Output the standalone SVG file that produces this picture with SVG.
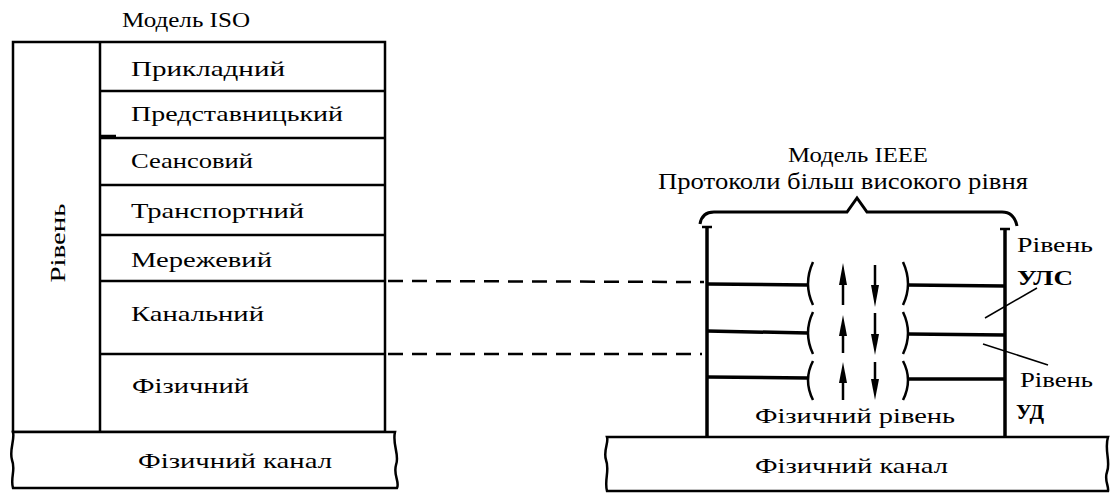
<svg xmlns="http://www.w3.org/2000/svg" width="1111" height="494" viewBox="0 0 1111 494" font-family="'Liberation Serif', 'DejaVu Serif', serif">
<style>
text{font-family:"Liberation Serif","DejaVu Serif",serif;fill:#000}
.t{font-size:22px}
.b{font-weight:bold;font-size:20px}
.ln{stroke:#000;fill:none;stroke-width:2.5}
.th{stroke:#000;fill:none;stroke-width:3.5}
.ds{stroke:#000;fill:none;stroke-width:2.5;stroke-dasharray:15 9}
.band{fill:#fff;stroke:#000;stroke-width:2.5}
.ah{fill:#000;stroke:none}
</style>
<rect width="1111" height="494" fill="#fff"/>

<g id="iso-model">
  <text x="122" y="27" style="font-size:21px" textLength="128" lengthAdjust="spacingAndGlyphs">Модель ISO</text>
  <rect class="ln" x="13" y="42" width="372" height="390"/>
  <line class="ln" x1="100" y1="42" x2="100" y2="432"/>
  <line class="ln" x1="100" y1="136" x2="116" y2="136"/>
  <text class="t" transform="translate(65,243) rotate(-90)" text-anchor="middle" textLength="79" lengthAdjust="spacingAndGlyphs">Рівень</text>
</g>
<g id="iso-app">
  <text class="t" x="131" y="76" textLength="154" lengthAdjust="spacingAndGlyphs">Прикладний</text>
  <line class="ln" x1="100" y1="91" x2="385" y2="91"/>
</g>
<g id="iso-pres">
  <text class="t" x="131" y="121" textLength="212" lengthAdjust="spacingAndGlyphs">Представницький</text>
  <line class="ln" x1="100" y1="138" x2="385" y2="138"/>
</g>
<g id="iso-sess">
  <text class="t" x="131" y="168" textLength="122" lengthAdjust="spacingAndGlyphs">Сеансовий</text>
  <line class="ln" x1="100" y1="185" x2="385" y2="185"/>
</g>
<g id="iso-trans">
  <text class="t" x="131" y="218" textLength="173" lengthAdjust="spacingAndGlyphs">Транспортний</text>
  <line class="ln" x1="100" y1="235" x2="385" y2="235"/>
</g>
<g id="iso-net">
  <text class="t" x="131" y="267" textLength="141" lengthAdjust="spacingAndGlyphs">Мережевий</text>
  <line class="ln" x1="100" y1="281" x2="385" y2="281"/>
</g>
<g id="iso-link">
  <text class="t" x="131" y="321" textLength="133" lengthAdjust="spacingAndGlyphs">Канальний</text>
  <line class="ln" x1="100" y1="354" x2="385" y2="354"/>
</g>
<g id="iso-phys">
  <text class="t" x="132" y="393" textLength="117" lengthAdjust="spacingAndGlyphs">Фізичний</text>
</g>
<g id="iso-channel">
  <path class="band" d="M13,432 L395,432 C392,445 400,455 396,465 C393,475 400,482 397,488 L13,488 C10,478 16,470 12,460 C9,450 15,440 13,432 Z"/>
  <text class="t" x="138" y="468" textLength="194" lengthAdjust="spacingAndGlyphs">Фізичний канал</text>
</g>

<g id="ieee-model">
  <text x="788" y="162" style="font-size:20px" textLength="140" lengthAdjust="spacingAndGlyphs">Модель IEEE</text>
  <text x="658" y="189" style="font-size:24px" textLength="370" lengthAdjust="spacingAndGlyphs">Протоколи більш високого рівня</text>
  <path class="ln" style="stroke-width:3" d="M700,224 Q702,212 714,212 L847,212 L857,198 L867,212 L1002,212 Q1014,212 1017,226"/>
  <line class="th" x1="707" y1="227" x2="707" y2="437"/>
  <line class="ln" x1="702" y1="227" x2="712" y2="227"/>
  <line class="th" x1="1005" y1="229" x2="1005" y2="437"/>
  <line class="ln" x1="1000" y1="229" x2="1010" y2="229"/>
</g>
<g id="ieee-llc">
  <line class="th" x1="707" y1="284" x2="808" y2="285"/>
  <line class="th" x1="908" y1="285" x2="1005" y2="286"/>
  <path class="ln" d="M813,262 Q803,284 813,305"/>
  <path class="ln" d="M903,262 Q913,284 903,305"/>
  <text class="t" x="1017" y="252" textLength="76" lengthAdjust="spacingAndGlyphs">Рівень</text>
  <text class="b" x="1017" y="285" textLength="56" lengthAdjust="spacingAndGlyphs">УЛС</text>
</g>
<g id="ieee-mac">
  <line class="th" x1="707" y1="331" x2="808" y2="333"/>
  <line class="th" x1="908" y1="334" x2="1005" y2="335"/>
  <path class="ln" d="M813,312 Q803,333 813,354"/>
  <path class="ln" d="M903,312 Q913,333 903,354"/>
  <text class="t" x="1020" y="387" textLength="73" lengthAdjust="spacingAndGlyphs">Рівень</text>
  <text class="b" x="1016" y="419" textLength="28" lengthAdjust="spacingAndGlyphs">УД</text>
</g>
<g id="ieee-phys">
  <line class="th" x1="707" y1="377" x2="808" y2="378"/>
  <line class="th" x1="908" y1="379" x2="1005" y2="379"/>
  <path class="ln" d="M813,361 Q803,380 813,400"/>
  <path class="ln" d="M903,361 Q913,380 903,400"/>
  <text class="t" x="755" y="423" textLength="200" lengthAdjust="spacingAndGlyphs">Фізичний рівень</text>
</g>
<g id="ieee-channel">
  <path class="band" d="M607,437 L1108,437 C1104,450 1111,462 1107,472 C1104,480 1109,486 1108,491 L607,491 C604,480 610,470 606,460 C603,450 609,443 607,437 Z"/>
  <text class="t" x="755" y="473" textLength="193" lengthAdjust="spacingAndGlyphs">Фізичний канал</text>
</g>

<g id="connectors">
  <line class="ds" x1="388" y1="281" x2="704" y2="282"/>
  <line class="ds" x1="388" y1="354" x2="702" y2="354"/>
  <line class="ln" style="stroke-width:1.5" x1="1037" y1="288" x2="985" y2="318"/>
  <line class="ln" style="stroke-width:1.5" x1="1048" y1="365" x2="983" y2="344"/>
  <line class="ln" x1="843" y1="305" x2="843" y2="280"/>
  <polygon class="ah" points="843,263 839,285 847,285"/>
  <line class="ln" x1="875" y1="265" x2="875" y2="292"/>
  <polygon class="ah" points="875,307 871,285 879,285"/>
  <line class="ln" x1="843" y1="353" x2="843" y2="330"/>
  <polygon class="ah" points="843,315 839,336 847,336"/>
  <line class="ln" x1="875" y1="313" x2="875" y2="340"/>
  <polygon class="ah" points="875,355 871,334 879,334"/>
  <line class="ln" x1="843" y1="400" x2="843" y2="378"/>
  <polygon class="ah" points="843,362 839,383 847,383"/>
  <line class="ln" x1="875" y1="362" x2="875" y2="388"/>
  <polygon class="ah" points="875,400 871,379 879,379"/>
</g>
</svg>
